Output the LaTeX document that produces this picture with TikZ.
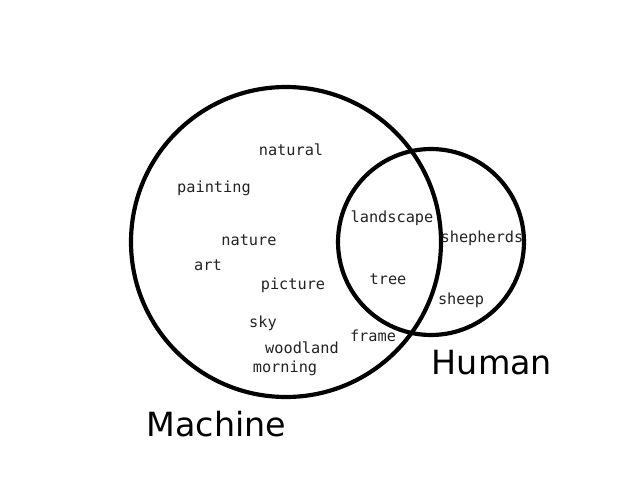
\documentclass[tikz,border=0pt]{standalone}
\usepackage{fontspec}
\usepackage{xcolor}
\usepackage{tikz}
\newfontfamily\wordfont{DejaVu Sans Mono}
\newfontfamily\setfont{DejaVu Sans}
\definecolor{wordgray}{HTML}{222222}
\tikzset{
  set/.style={draw, circle, line width=3pt, inner sep=0pt},
  word/.style={font=\wordfont\fontsize{11pt}{13pt}\selectfont, text=wordgray, inner sep=0pt},
  setname/.style={font=\setfont\fontsize{24pt}{28pt}\selectfont, inner sep=0pt}
}

\begin{document}
\begin{tikzpicture}[x=0.72pt, y=-0.72pt]
                \useasboundingbox (0,0) rectangle (640,480);
                \node[set, minimum size=223.2pt] (machine) at (286,242) {};
                \node[set, minimum size=133.9pt] (human) at (431,242) {};
                \node[setname] (mlabel) at (216.5,424) {Machine};
                \node[setname] (hlabel) at (492,362.5) {Human};
                \node[word] (natural) at (291,150) {natural};
                \node[word] (painting) at (214,188) {painting};
                \node[word] (nature) at (249,240) {nature};
                \node[word] (art) at (208,265) {art};
                \node[word] (picture) at (293,285) {picture};
                \node[word] (sky) at (263,323) {sky};
                \node[word] (woodland) at (302,348) {woodland};
                \node[word] (morning) at (285,368) {morning};
                \node[word] (landscape) at (392,218) {landscape};
                \node[word] (tree) at (388,279) {tree};
                \node[word] (frame) at (373,336) {frame};
                \node[word] (shepherds) at (482,238) {shepherds};
                \node[word] (sheep) at (461,300) {sheep};
            \end{tikzpicture}
\end{document}
